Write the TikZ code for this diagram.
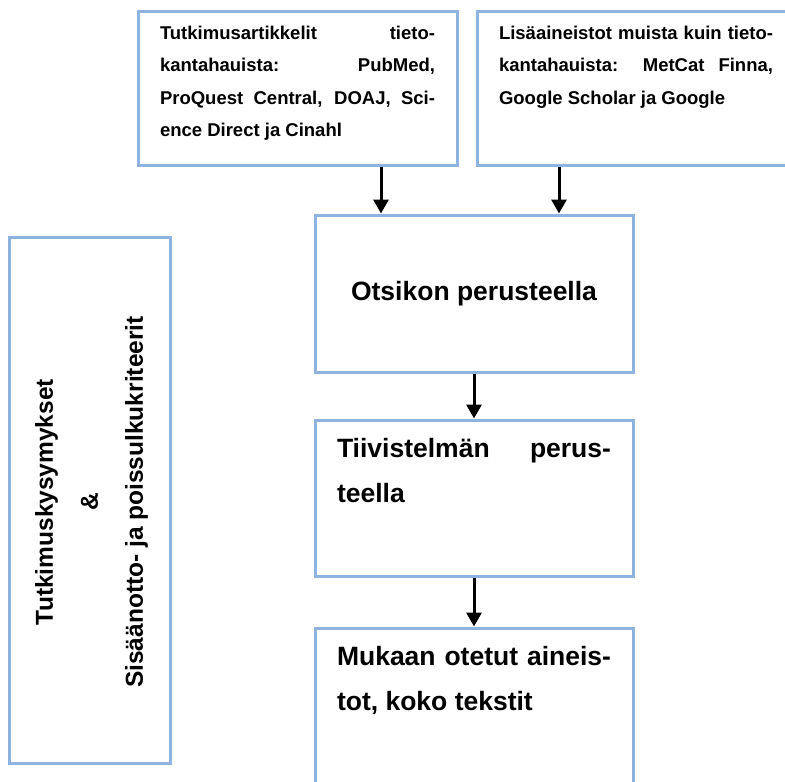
\documentclass[tikz,border=0pt]{standalone}
\usepackage{fontspec}
\setmainfont{Liberation Sans}
\usetikzlibrary{arrows.meta,calc}
\definecolor{kehys}{RGB}{143,179,224}

\begin{document}
\begin{tikzpicture}[x=1pt,y=-1pt,
                every path/.style={>={Triangle[length=14pt,width=15pt]}},
                laatikko/.style={draw=kehys,line width=3pt,outer sep=0pt,inner xsep=22pt,inner ysep=0pt,anchor=north west},
                pieni/.style={font=\fontsize{18.5}{32.5}\selectfont\bfseries},
                iso/.style={font=\fontsize{26.5}{45.5}\selectfont\bfseries},
                nuoli/.style={->,line width=3pt,shorten >=1.5pt,shorten <=1.5pt}]
  \useasboundingbox (0,0) rectangle (785,782);
  \clip (0,0) rectangle (785,782);
  % lahteet
  \node[laatikko,pieni,minimum width=319pt,minimum height=154pt] (haku) at (138,11)
    {\parbox[c][154pt][t]{275pt}{\vspace*{14.8pt}%
      \makebox[\linewidth][s]{Tutkimusartikkelit tieto-}\\
      \makebox[\linewidth][s]{kantahauista: PubMed,}\\
      \makebox[\linewidth][s]{ProQuest Central, DOAJ, Sci-}\\
      ence Direct ja Cinahl}};
  \node[laatikko,pieni,minimum width=318pt,minimum height=154pt] (lisa) at (477,11)
    {\parbox[c][154pt][t]{274pt}{\vspace*{14.8pt}%
      \makebox[\linewidth][s]{Lisäaineistot muista kuin tieto-}\\
      \makebox[\linewidth][s]{kantahauista: MetCat Finna,}\\
      Google Scholar ja Google}};
  % valintavaiheet
  \node[laatikko,iso,minimum width=318pt,minimum height=157pt] (otsikko) at (315,215) {Otsikon perusteella};
  \node[laatikko,iso,minimum width=318pt,minimum height=156pt] (tiivis) at (315,420)
    {\parbox[c][156pt][t]{274pt}{\vspace*{18pt}%
      \makebox[\linewidth][s]{Tiivistelmän perus-}\\
      teella}};
  \node[laatikko,iso,minimum width=318pt,minimum height=170pt] (mukaan) at (315,628)
    {\parbox[c][170pt][t]{274pt}{\vspace*{18pt}%
      \makebox[\linewidth][s]{Mukaan otetut aineis-}\\
      tot, koko tekstit}};
  % kriteerit
  \node[laatikko,minimum width=161pt,minimum height=526pt] (kriteerit) at (9,237) {};
  \node[rotate=90,align=center,font=\fontsize{24.5}{45}\selectfont\bfseries] (kriteeriteksti)
    at ([xshift=2pt,yshift=-2pt]kriteerit.center)
    {Tutkimuskysymykset\\ \&\\ Sisäänotto- ja poissulkukriteerit};
  % nuolet
  \coordinate (a1) at ([xshift=243pt]haku.south west);
  \coordinate (a2) at ([xshift=82pt]lisa.south west);
  \draw[nuoli] (a1) -- (a1 |- otsikko.north);
  \draw[nuoli] (a2) -- (a2 |- otsikko.north);
  \draw[nuoli] (otsikko) -- (tiivis);
  \draw[nuoli] (tiivis) -- (mukaan);
\end{tikzpicture}
\end{document}
